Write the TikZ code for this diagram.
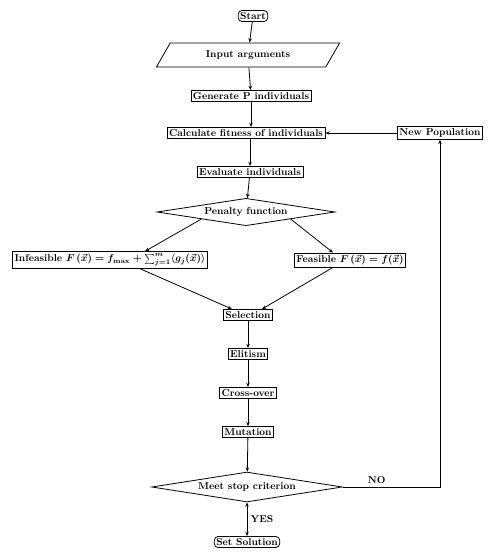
\documentclass[tikz,border=0pt]{standalone}
\usepackage{amsmath}
\usepackage{tikz}
\usetikzlibrary{shapes.geometric,arrows.meta,positioning}
\tikzset{
    startstop/.style={rectangle, rounded corners=4pt, draw, thick, inner sep=2pt, font=\bfseries\boldmath},
    io/.style={trapezium, trapezium left angle=60, trapezium right angle=120, draw, thick, minimum width=6.45cm, inner sep=2.5pt, font=\bfseries\boldmath},
    process/.style={rectangle, draw, thick, inner sep=2pt, font=\bfseries\boldmath},
    decision/.style={diamond, draw, thick, aspect=5.2, inner sep=1pt, font=\bfseries\boldmath},
    edge/.style={draw, thick, -{Stealth[length=1.5mm,width=1.2mm]}},
    biedge/.style={draw, thick, {Stealth[length=1.5mm,width=1.2mm]}-{Stealth[length=1.5mm,width=1.2mm]}},
    answer/.style={font=\bfseries}
}
\begin{document}
\begin{tikzpicture}[x=1pt, y=-1pt]
    \useasboundingbox (0,0) rectangle (498,555);
    % Nodes
    \node[startstop] (start) at (253,16) {Start};
    \node[io] (input) at (248,55) {Input arguments};
    \node[process] (gen) at (251,96) {Generate P individuals};
    \node[process] (fit) at (246,133) {Calculate fitness of individuals};
    \node[process] (newpop) at (440,133) {New Population};
    \node[process] (eval) at (250,172) {Evaluate individuals};
    \node[decision, minimum width=6.25cm] (pen) at (246,212) {Penalty function};
    \node[process] (infeas) at (110,260) {Infeasible $F\left(\vec{x}\right) = f_{\max} + \sum_{j=1}^{m} \langle g_j(\vec{x}) \rangle$};
    \node[process] (feas) at (350,260) {Feasible $F\left(\vec{x}\right) = f(\vec{x})$};
    \node[process] (sel) at (248,315) {Selection};
    \node[process] (elit) at (248,354) {Elitism};
    \node[process] (cross) at (248,393) {Cross-over};
    \node[process] (mut) at (248,432) {Mutation};
    \node[decision, minimum width=6.7cm] (stop) at (247,487) {Meet stop criterion};
    \node[startstop] (sol) at (247,542) {Set Solution};
    \coordinate (corner) at (440,487);

    % edges
    \draw[edge] (start) -- (input);
    \draw[edge] (input) -- (gen);
    \draw[edge] (gen) -- (fit.north -| gen);
    \draw[edge] (fit.south -| eval) -- (eval);
    \draw[edge] (eval) -- (pen);
    \draw[edge] (pen.south west) -- ([xshift=35pt]infeas.north);
    \draw[edge] (pen.south east) -- ([xshift=-17pt]feas.north);
    \draw[edge] ([xshift=30pt]infeas.south) -- ([xshift=-16pt]sel.north);
    \draw[edge] ([xshift=-17pt]feas.south) -- ([xshift=14pt]sel.north);
    \draw[edge] (sel) -- (elit);
    \draw[edge] (elit) -- (cross);
    \draw[edge] (cross) -- (mut);
    \draw[edge] (mut) -- (stop);
    \draw[biedge] (stop) -- node[answer, right] {YES} (sol);
    \draw[edge] (stop.east) -- node[answer, above, pos=0.35] {NO} (corner) -- (newpop);
    \draw[edge] (newpop) -- (fit);
\end{tikzpicture}
\end{document}
